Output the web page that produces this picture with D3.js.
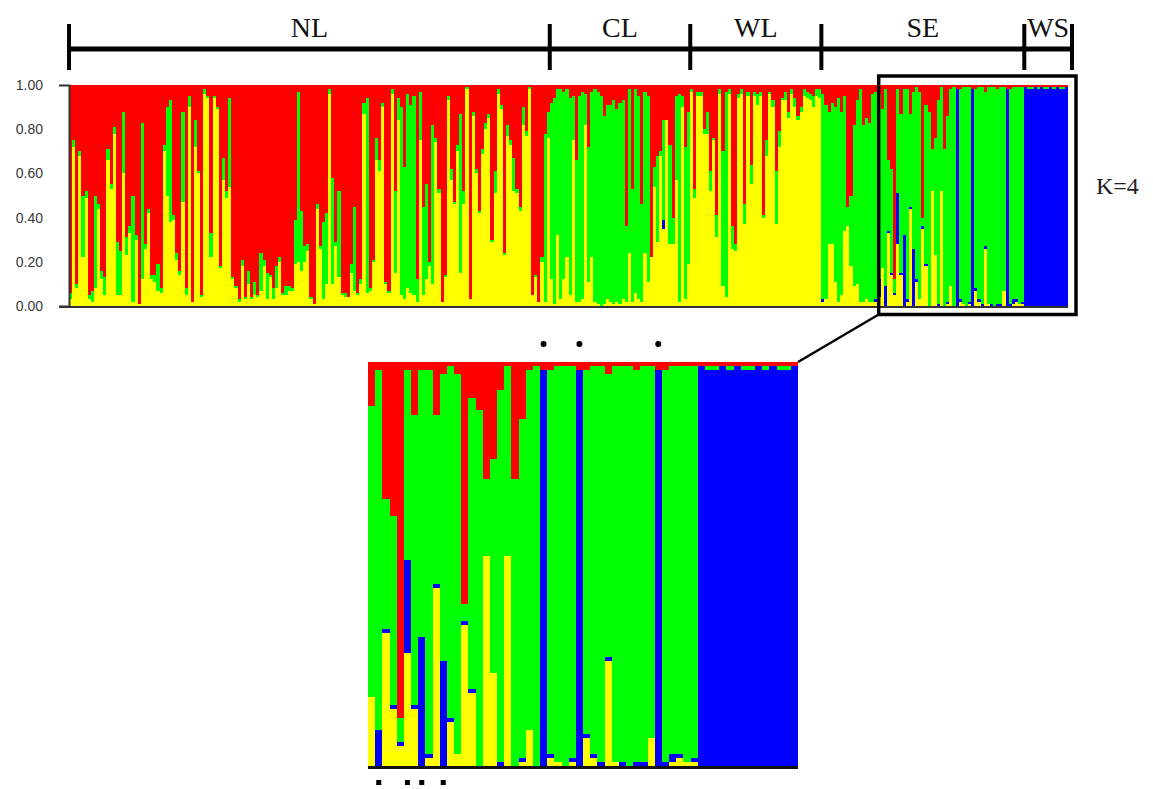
<!DOCTYPE html>
<html><head><meta charset="utf-8">
<script src="https://cdn.jsdelivr.net/npm/d3@7"></script>
<style>html,body{margin:0;padding:0;background:#fff}svg{display:block}</style>
</head><body>
<svg id="c" width="1153" height="789"></svg>
<script>
// ---------- data ----------
const populations = ["NL","CL","WL","SE","WS"];
const popSizes = [154,45,42,65,14];
const clusters = ["yellow","blue","green","red"];
const clusterColors = ["#FFFF00","#0000FF","#00FF00","#FF0000"];
const yTicks = [0,0.2,0.4,0.6,0.8,1.0];
const kLabel = "K=4";

const yellow = [
.03,.72,.08,.68,.22,.49,.03,.02,.08,.44,.12,.05,.66,.53,.78,.05,.05,.60,.23,.33,
.02,.30,.01,.12,.26,.42,.12,.11,.07,.06,.70,.50,.38,.39,.21,.14,.47,.05,.90,.02,
.72,.60,.04,.96,.94,.22,.94,.89,.17,.57,.49,.54,.12,.08,.02,.18,.03,.10,.03,.05,
.04,.07,.18,.03,.13,.03,.08,.20,.05,.05,.07,.07,.19,.20,.16,.20,.25,.03,.01,.44,
.26,.03,.10,.96,.10,.27,.13,.05,.04,.04,.15,.07,.05,.10,.87,.06,.07,.20,.66,.61,
.90,.10,.06,.96,.15,.84,.05,.03,.08,.06,.05,.02,.75,.05,.12,.18,.10,.74,.51,.02,
.13,.93,.57,.46,.70,.15,.46,.98,.03,.86,.60,.42,.69,.80,.85,.29,.51,.96,.89,.23,
.77,.73,.52,.51,.43,.82,.77,.98,.05,.13,.02,.20,.02,.76,
.12,.01,.32,.03,.12,.22,.05,.75,.02,.02,.03,.82,.11,.22,.02,.01,0,.01,.03,.02,
.01,.02,.01,.03,.02,.24,.02,.06,.03,.02,.24,.11,.22,.54,.29,.68,.35,.84,.28,.28,.57,.02,.90,.03,.19,
.97,.49,.95,.95,.78,.78,.52,.75,.31,.96,.09,.04,.96,.26,.25,.94,.96,.37,.95,.55,
.95,.91,.95,.40,.68,.96,.90,.37,.72,.93,.93,.85,.96,.90,.84,.88,.95,.94,.93,.90,.95,.94,
.02,.03,.28,.28,.11,.02,.05,.34,.36,.18,.09,.10,.02,.02,.03,.02,.02,.02,.04,
.17,0,.33,.14,.05,.28,.14,0,.02,.44,0,.11,.03,.35,.18,0,.52,.23,0,.52,
0,.01,.09,0,0,.02,.01,0,.01,0,.07,.02,0,.26,.01,0,0,0,0,.07,0,0,.01,.02,.01,.01,
0,0,0,0,0,0,0,0,0,0,0,0,0,0
];
const blue = [
0,0,0,0,0,0,0,0,0,0,0,0,0,0,0,0,0,0,0,0,
0,0,0,0,0,0,0,0,0,0,0,0,0,0,0,0,0,0,0,0,
0,0,0,0,0,0,0,0,0,0,0,0,0,0,0,0,0,0,0,0,
0,0,0,0,0,0,0,0,0,0,0,0,0,0,0,0,0,0,0,0,
0,0,0,0,0,0,0,0,0,0,0,0,0,0,0,0,0,0,0,0,
0,0,0,0,0,0,0,0,0,0,0,0,0,0,0,0,0,0,0,0,
0,0,0,0,0,0,0,0,0,0,0,0,0,0,0,0,0,0,0,0,
0,0,0,0,0,0,0,0,0,0,0,0,0,0,
0,0,0,0,0,0,0,0,0,0,0,0,0,0,0,0,0,0,0,0,
0,0,0,0,0,0,0,0,0,0,0,0,0,0,0,0,.04,0,0,0,0,0,0,0,0,
0,0,0,0,0,0,0,0,0,0,0,0,0,0,0,0,0,0,0,0,
0,0,0,0,0,0,0,0,0,0,0,0,0,0,0,0,0,0,0,0,0,0,
.01,0,0,0,0,0,0,0,0,0,0,0,0,0,0,0,0,.01,.08,
0,.09,.01,.01,.01,.23,.01,.32,.01,.01,.26,.01,0,.01,.01,0,0,0,.01,0,
0,.01,0,0,.98,.01,0,0,.01,.98,.01,.01,.01,.01,0,.01,0,.01,.01,0,.98,.01,.02,.01,0,.01,
.99,.98,.98,.99,.98,.99,.98,.98,.99,.98,.99,.98,.98,.99
];
const green = [
.03,.03,.02,.02,.28,.03,.02,.05,.42,.02,.04,.08,.05,.02,.03,.24,.20,.28,.08,.03,
.48,.02,0,.71,.02,.02,.02,.03,.12,.02,.03,.40,.55,.02,.03,.02,.41,.03,.05,0,
.12,.01,.01,.02,.01,.11,.01,.01,.01,.10,.03,.40,.01,.01,.01,.03,.01,.06,.01,.06,
.01,.17,.03,.12,.01,.05,.10,.02,.01,.04,.02,.01,.20,.77,.27,.07,.03,.01,0,.02,
.01,.35,.32,.02,.48,.02,.39,.01,.02,0,.04,.38,.01,.02,.05,.88,.01,.01,.10,.05,
.02,.01,.01,.02,.37,.10,.85,.60,.88,.85,.90,.10,.22,.40,.43,.02,.72,.02,.02,0,
.01,.02,.05,.01,.03,.72,.06,.01,0,.02,.02,.01,.02,.03,.02,.01,.10,.02,.02,.01,
.05,.02,.15,.02,.02,.08,.02,.01,0,.01,0,.02,.76,.12,
.80,.93,.66,.95,.85,.76,.89,.20,.64,.93,.94,.14,.61,.75,.96,.96,.95,.85,.88,.89,
.92,.87,.91,.90,.34,.74,.51,.92,.92,.44,.73,.84,0,.09,.39,.02,.45,0,.45,.12,.38,.94,.05,.69,.69,
.01,.04,.02,.02,.02,.10,.09,.01,.10,.02,.61,.93,.02,.10,.03,.02,.02,.09,.02,.09,
.02,.05,.02,.01,.07,.01,.03,.24,.07,.01,.04,.03,.02,.04,.02,.02,.03,.03,.03,.05,.03,.04,
.93,.88,.60,.64,.79,.92,.83,.61,.09,.32,.73,.83,.96,.80,.82,.81,.94,.94,.84,
.72,.89,.32,.47,.06,.47,.72,.66,.95,.42,.71,.87,.94,.04,.72,.88,.19,.53,.92,.47,
.71,.84,.89,.99,0,.95,.98,.99,.97,0,.90,.96,.98,.70,.98,.98,.99,.97,.98,.92,0,.97,.96,.96,.98,.97,
0,.01,.01,0,.01,0,.01,.01,0,.01,0,.01,.01,0
];
const red = [
.94,.25,.90,.30,.50,.48,.95,.93,.50,.54,.84,.87,.29,.45,.19,.71,.75,.12,.69,.64,
.50,.68,.99,.17,.72,.56,.86,.86,.81,.92,.27,.10,.07,.59,.76,.84,.12,.92,.05,.98,
.16,.39,.95,.02,.05,.67,.05,.10,.82,.33,.48,.06,.87,.91,.97,.79,.96,.84,.96,.89,
.95,.76,.79,.85,.86,.92,.82,.78,.94,.91,.91,.92,.61,.03,.57,.73,.72,.96,.99,.54,
.73,.62,.58,.02,.42,.71,.48,.94,.94,.96,.81,.55,.94,.88,.08,.06,.92,.79,.24,.34,
.08,.89,.93,.02,.48,.06,.10,.37,.04,.09,.05,.88,.03,.55,.45,.80,.18,.24,.47,.98,
.86,.05,.38,.53,.27,.13,.48,.01,.97,.12,.38,.57,.29,.17,.13,.70,.39,.02,.09,.76,
.18,.25,.33,.47,.55,.10,.21,.01,.95,.86,.98,.78,.22,.12,
.08,.06,.02,.02,.03,.02,.06,.05,.34,.05,.03,.04,.28,.03,.02,.03,.05,.14,.09,.09,
.07,.11,.08,.07,.64,.02,.47,.02,.05,.54,.03,.05,.78,.37,.32,.30,.16,.16,.27,.60,.05,.04,.05,.28,.12,
.02,.47,.03,.03,.20,.12,.39,.24,.59,.02,.30,.03,.02,.64,.72,.04,.02,.54,.03,.36,
.03,.04,.03,.59,.25,.03,.07,.39,.21,.06,.03,.12,.02,.06,.14,.10,.02,.03,.04,.05,.02,.02,
.04,.09,.12,.08,.10,.06,.12,.05,.55,.50,.18,.07,.02,.18,.15,.17,.04,.03,.04,
.11,.02,.34,.38,.88,.02,.13,.02,.02,.13,.03,.01,.03,.60,.09,.12,.29,.24,.07,.01,
.29,.14,.02,.01,.02,.02,.01,.01,.01,.02,.02,.01,.01,.03,.01,.01,.01,.02,.01,.01,.02,.02,.01,.01,.01,.01,
.01,.01,.01,.01,.01,.01,.01,.01,.01,.01,.01,.01,.01,.01
];
const insetFirst = 260;           // first individual shown in the enlarged panel
const markedAbove = [284,289,300]; // individuals flagged with a dot above the panel
const markedBelow = [261,265,267,270]; // individuals flagged with a square below

// ---------- build ----------
const N = d3.sum(popSizes);
const series = {yellow, blue, green, red};
const rows = d3.range(N).map(i => {
  const r = {i};
  clusters.forEach(k => r[k] = series[k][i] || 0);
  return r;
});
const stacked = d3.stack().keys(clusters)(rows);
const color = d3.scaleOrdinal(clusters, clusterColors);

const svg = d3.select("#c");

function drawBars(g, x, y, data) {
  g.selectAll("g.layer").data(data).join("g")
    .attr("class","layer").attr("fill", d => color(d.key))
    .attr("shape-rendering","crispEdges")
    .selectAll("rect").data(d => d.filter(s => x(s.data.i) !== undefined)).join("rect")
      .attr("x", s => Math.round(x(s.data.i)))
      .attr("width", s => Math.round(x(s.data.i) + x.bandwidth()) - Math.round(x(s.data.i)))
      .attr("y", s => Math.round(y(s[1])))
      .attr("height", s => Math.max(0, Math.round(y(s[0])) - Math.round(y(s[1]))));
}

// main panel
const x = d3.scaleBand(d3.range(N), [69, 1068]).padding(0);
const y = d3.scaleLinear([0, 1], [306, 85]);
drawBars(svg.append("g"), x, y, stacked);

// y axis
const yAxis = d3.axisLeft(y).tickValues(yTicks).tickFormat(d3.format(".2f"))
  .tickSizeInner(0).tickSizeOuter(10).tickPadding(26);
const ya = svg.append("g").attr("transform", "translate(69,0)").call(yAxis);
ya.select(".domain").attr("stroke", "#333").attr("stroke-width", 2);
ya.selectAll("text").attr("font-family", "'Liberation Sans', Arial, sans-serif")
  .attr("font-size", 14).attr("fill", "#3a3a3a");
svg.append("line").attr("x1", 59).attr("x2", x.range()[1]).attr("y1", y(0) + 1).attr("y2", y(0) + 1)
  .attr("stroke", "#333").attr("stroke-width", 2);

// population bracket
const starts = d3.cumsum([0, ...popSizes]);
const bracketY = 49;
const bx = i => i >= N ? x.range()[1] : x(i);
const br = svg.append("g").attr("stroke", "#000");
br.append("line").attr("x1", bx(0)).attr("x2", bx(N) + 4).attr("y1", bracketY).attr("y2", bracketY)
  .attr("stroke-width", 5);
starts.forEach((s, k) => {
  const px = k === starts.length - 1 ? bx(N) + 4 : bx(s);
  br.append("line").attr("x1", px).attr("x2", px).attr("y1", 24).attr("y2", 70).attr("stroke-width", 4);
});
svg.append("g").selectAll("text").data(populations).join("text")
  .attr("x", (p, k) => ((k === 0 ? bx(0) : bx(starts[k])) + (k === populations.length - 1 ? bx(N) + 4 : bx(starts[k + 1]))) / 2)
  .attr("y", 37).attr("text-anchor", "middle")
  .attr("font-family", "'Liberation Serif', 'Times New Roman', serif").attr("font-size", 28)
  .attr("fill", "#111").text(d => d);

// K label
svg.append("text").attr("x", 1096).attr("y", 194)
  .attr("font-family", "'Liberation Serif', 'Times New Roman', serif").attr("font-size", 24)
  .attr("fill", "#222").text(kLabel);

// highlight box
const boxL = x(insetFirst) - 2, boxR = x.range()[1] + 8, boxT = y(1) - 9, boxB = y(0) + 8.5;
svg.append("rect").attr("x", boxL).attr("y", boxT).attr("width", boxR - boxL).attr("height", boxB - boxT)
  .attr("fill", "none").attr("stroke", "#000").attr("stroke-width", 3.5);

// inset panel
const insetIdx = d3.range(insetFirst, N);
const xi = d3.scaleBand(insetIdx, [368, 798]).padding(0);
const yi = d3.scaleLinear([0, 1], [766, 362]);
drawBars(svg.append("g"), xi, yi, stacked);
svg.append("line").attr("x1", 368).attr("x2", 798).attr("y1", yi(0) + 1.5).attr("y2", yi(0) + 1.5)
  .attr("stroke", "#111").attr("stroke-width", 3);

// connector
svg.append("line").attr("x1", boxL).attr("y1", boxB).attr("x2", xi.range()[1]).attr("y2", yi(1))
  .attr("stroke", "#000").attr("stroke-width", 2.5);

// markers
svg.append("g").selectAll("circle").data(markedAbove).join("circle")
  .attr("cx", i => xi(i) + xi.bandwidth() / 2).attr("cy", 344).attr("r", 3).attr("fill", "#000");
svg.append("g").selectAll("rect").data(markedBelow).join("rect")
  .attr("x", i => xi(i) + xi.bandwidth() / 2 - 2.5).attr("y", 780).attr("width", 5).attr("height", 5)
  .attr("fill", "#000");
</script>
</body></html>
